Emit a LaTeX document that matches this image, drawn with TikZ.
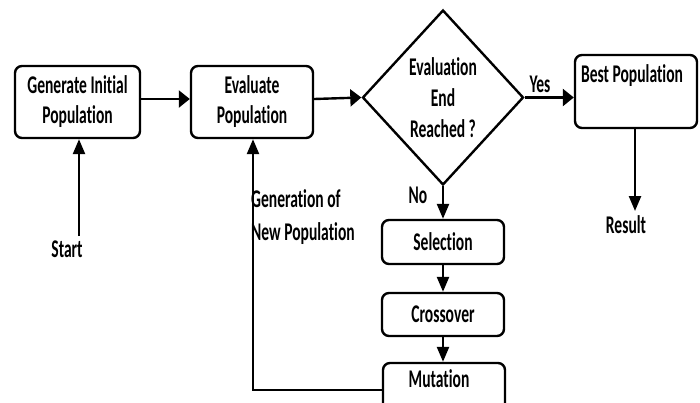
\documentclass[tikz,border=0pt]{standalone}
\usepackage{fontspec}
\usetikzlibrary{arrows.meta,shapes.geometric}
\newfontfamily\flowfont[FakeStretch=0.61,Ligatures=NoCommon]{Carlito}
\begin{document}
\begin{tikzpicture}[x=1pt,y=-1pt,
  every node/.style={font=\flowfont\bfseries\fontsize{25.5}{30}\selectfont,text=black,inner sep=0pt},
  stepbox/.style={draw,line width=2.4pt,rounded corners=7pt,align=center},
  decision/.style={draw,line width=2.4pt,diamond,shape aspect=0.92,align=center,
    minimum width=161pt,minimum height=175pt},
  flow/.style={line width=2.4pt},
  harrow/.style={flow,-{Triangle[length=11pt,width=17pt]}},
  varrow/.style={flow,-{Triangle[length=15pt,width=12pt]}}]
\useasboundingbox (0,0) rectangle (700,402);
\clip (0,0) rectangle (700,402);

% main row
\node[stepbox,minimum width=125pt,minimum height=72pt] (gen) at (77.5,102) {Generate Initial\\Population};
\node[stepbox,minimum width=122pt,minimum height=72pt] (eval) at (252,102) {Evaluate\\Population};
\node[decision,font=\flowfont\bfseries\fontsize{25.5}{31}\selectfont] (check) at (443,97.5) {Evaluation\\End\\Reached ?};
\node[stepbox,minimum width=122pt,minimum height=73pt] (best) at (636,91.5) {};
\node[anchor=base] (bestlbl) at (632,82) {Best Population};

% genetic operators
\node[stepbox,minimum width=122pt,minimum height=44pt] (sel) at (443,242) {Selection};
\node[stepbox,minimum width=122pt,minimum height=43pt] (cross) at (443,314.5) {Crossover};
\node[stepbox,minimum width=122pt,minimum height=60pt] (mut) at (444,393) {};
\node[anchor=base] (mutlbl) at (439,387) {Mutation};

% free labels
\node[anchor=base] (start) at (67,257) {Start};
\node[anchor=base] (result) at (626,233) {Result};
\node[anchor=base] (yes) at (540,92) {Yes};
\node[anchor=base] (no) at (418,203) {No};
\node[anchor=base west] (newgen) at (251,207) {Generation of};
\node[anchor=base west] (newgen2) at (251,240) {New Population};

\coordinate (startpt) at (79,236);
\coordinate (resultpt) at (635,211);
\coordinate (loopcorner) at (253,390);

% connectors
\draw[varrow] (startpt) -- (startpt |- gen.south);
\draw[harrow] (gen.east |- 0,99) -- (eval.west |- 0,99);
\draw[harrow] (eval.east |- 0,99) -- (check.west);
\draw[harrow] (check.east) -- (check.east -| best.west);
\draw[varrow] (resultpt |- best.south) -- (resultpt);
\draw[varrow] (check.south) -- (sel.north);
\draw[varrow] (sel.south) -- (cross.north);
\draw[varrow] (cross.south) -- (mut.north -| cross.south);
\draw[varrow] (mut.west |- loopcorner) -- (loopcorner) -- (loopcorner |- eval.south);
\end{tikzpicture}
\end{document}
